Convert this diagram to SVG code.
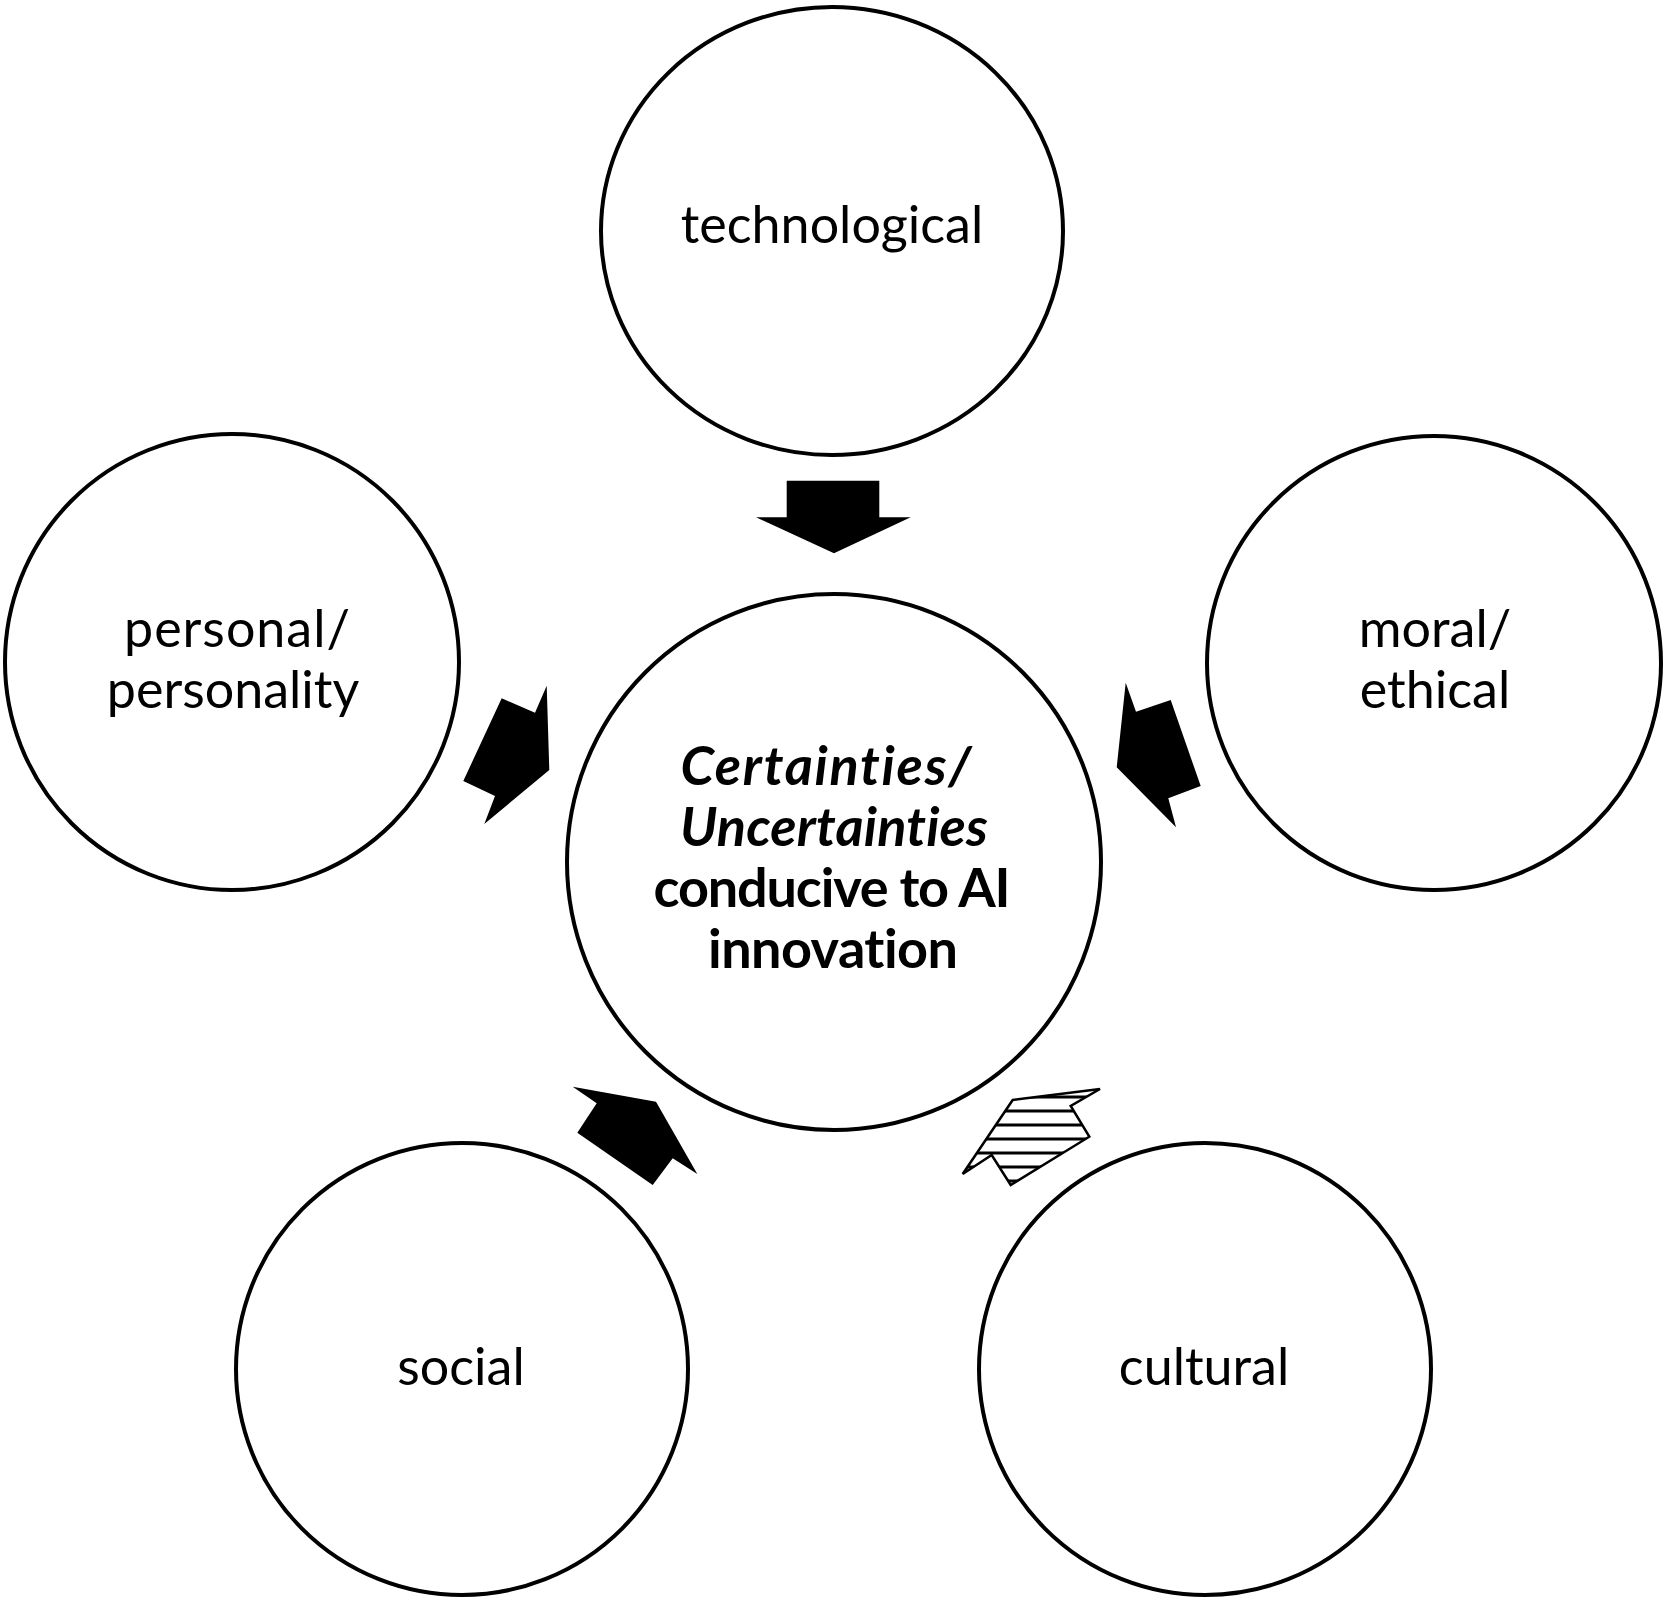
<svg xmlns="http://www.w3.org/2000/svg" width="1667" height="1603" viewBox="0 0 1667 1603">
<style>
.node{fill:#fff;stroke:#000;stroke-width:4}
.lbl{font-family:Lato,"Open Sans","Liberation Sans",sans-serif;font-size:52px;fill:#000;text-anchor:middle;font-variant-ligatures:none}
.ctr{font-family:Lato,"Open Sans","Liberation Sans",sans-serif;font-size:54px;font-weight:bold;fill:#000;text-anchor:middle;font-variant-ligatures:none}
.arrow{fill:#000;stroke:none}
</style>
<defs>
<pattern id="stripes" patternUnits="userSpaceOnUse" x="0" y="1104" width="20" height="14">
<rect x="0" y="5.5" width="20" height="3" fill="#000"/>
</pattern>
</defs>
<rect width="1667" height="1603" fill="#fff"/>
<g id="node-technological">
<ellipse class="node" cx="832" cy="231" rx="231" ry="224"/>
<text class="lbl" x="832" y="243">technological</text>
</g>
<g id="node-center">
<ellipse class="node" cx="834" cy="862" rx="267" ry="268"/>
<text class="ctr" x="826" y="785" font-style="italic" textLength="291" lengthAdjust="spacing">Certainties/</text>
<text class="ctr" x="834" y="846" font-style="italic" textLength="308" lengthAdjust="spacing">Uncertainties</text>
<text class="ctr" x="832" y="907" textLength="357" lengthAdjust="spacing">conducive to AI</text>
<text class="ctr" x="833" y="968" textLength="250" lengthAdjust="spacing">innovation</text>
</g>
<g id="node-personal">
<ellipse class="node" cx="232" cy="662" rx="227" ry="228"/>
<text class="lbl" x="237" y="647" textLength="226" lengthAdjust="spacing">personal/</text>
<text class="lbl" x="233" y="708">personality</text>
</g>
<g id="node-moral">
<ellipse class="node" cx="1434" cy="663" rx="227" ry="227"/>
<text class="lbl" x="1435" y="647">moral/</text>
<text class="lbl" x="1435" y="708">ethical</text>
</g>
<g id="node-social">
<ellipse class="node" cx="462" cy="1369" rx="226" ry="226"/>
<text class="lbl" x="461" y="1385">social</text>
</g>
<g id="node-cultural">
<ellipse class="node" cx="1205" cy="1369" rx="226" ry="226"/>
<text class="lbl" x="1204" y="1385">cultural</text>
</g>
<g id="connectors">
<polygon class="arrow" points="786.7,480.7 879.3,480.7 879.3,517.3 910.7,517.3 834,553.3 756,517.3 786.7,517.3"/>
<polygon class="arrow" points="501.7,698.3 535,712.7 546.7,685.7 549.3,770 484.3,824 495,796 463.3,781"/>
<polygon class="arrow" points="1125.7,682.7 1136,711.7 1170.7,700 1200.7,786 1168.3,798.3 1176,827.3 1116.7,767.3"/>
<polygon class="arrow" points="572.7,1086.7 596.7,1103.3 577.3,1132.7 652.7,1185 672.7,1158.3 697.3,1174 656,1101.7"/>
<polygon points="1012.7,1100 1100,1089 1070.7,1106 1089.3,1136.7 1010.7,1185 991.7,1155 962.7,1174" fill="url(#stripes)" stroke="#000" stroke-width="2.5" stroke-linejoin="miter"/>
</g>
</svg>
